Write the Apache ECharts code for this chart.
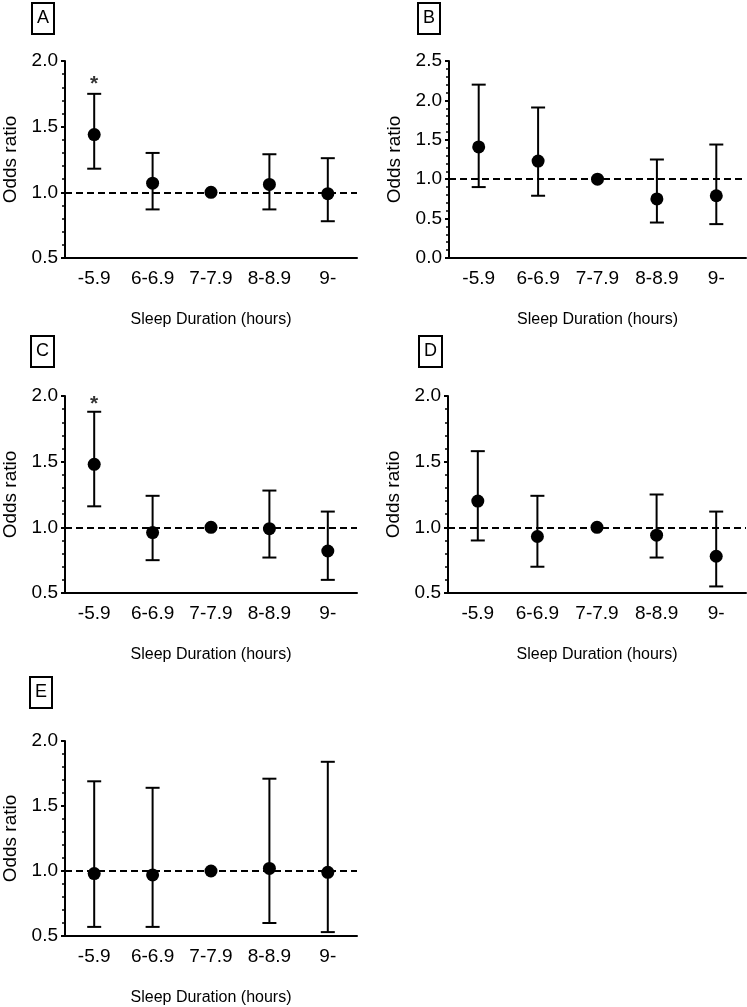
<!DOCTYPE html>
<html>
<head>
<meta charset="utf-8">
<script src="https://cdn.jsdelivr.net/npm/echarts@6/dist/echarts.min.js"></script>
<style>
html,body{margin:0;padding:0;background:#fff;}
#main{width:747px;height:1007px;}
</style>
</head>
<body>
<div id="main"></div>
<script>
//睡眠时长分组
var categories = ['-5.9', '6-6.9', '7-7.9', '8-8.9', '9-'];

//A
var orA   = [1.44, 1.07, 1.00, 1.06, 0.99];
var lowA  = [1.18, 0.87, null, 0.87, 0.78];
var highA = [1.75, 1.30, null, 1.29, 1.26];
var starA = [1.85, null, null, null, null];
//B
var orB   = [1.41, 1.23, 1.00, 0.75, 0.79];
var lowB  = [0.90, 0.79, null, 0.45, 0.43];
var highB = [2.20, 1.91, null, 1.25, 1.44];
var starB = [null, null, null, null, null];
//C
var orC   = [1.48, 0.96, 1.00, 0.99, 0.82];
var lowC  = [1.16, 0.75, null, 0.77, 0.60];
var highC = [1.88, 1.24, null, 1.28, 1.12];
var starC = [1.97, null, null, null, null];
//D
var orD   = [1.20, 0.93, 1.00, 0.94, 0.78];
var lowD  = [0.90, 0.70, null, 0.77, 0.55];
var highD = [1.58, 1.24, null, 1.25, 1.12];
var starD = [null, null, null, null, null];
//E
var orE   = [0.98, 0.97, 1.00, 1.02, 0.99];
var lowE  = [0.57, 0.57, null, 0.60, 0.53];
var highE = [1.69, 1.64, null, 1.71, 1.84];
var starE = [null, null, null, null, null];

var yTicksMin = [0.5, 0.0, 0.5, 0.5, 0.5];
var yTicksMax = [2.0, 2.5, 2.0, 2.0, 2.0];
var letters = ['A', 'B', 'C', 'D', 'E'];

var panels = [
	{or: orA, low: lowA, high: highA, star: starA},
	{or: orB, low: lowB, high: highB, star: starB},
	{or: orC, low: lowC, high: highC, star: starC},
	{or: orD, low: lowD, high: highD, star: starD},
	{or: orE, low: lowE, high: highE, star: starE}
];

var font = "'Liberation Sans', Arial, sans-serif";

//各面板位置
var grids = [
	{left: 60, top: 61, width: 297, height: 197},
	{left: 449, top: 61, width: 297, height: 197},
	{left: 60, top: 396, width: 297, height: 197},
	{left: 448, top: 396, width: 298, height: 197},
	{left: 60, top: 741, width: 297, height: 197}
];
var boxes = [[32, 3], [418, 3], [31, 336], [419, 336], [30, 677]];

//误差线
function errorBar(params, api) {
	var lo = api.coord([api.value(0), api.value(1)]);
	var hi = api.coord([api.value(0), api.value(2)]);
	var w = 7;
	var st = {stroke: '#000', lineWidth: 2};
	return {
		type: 'group',
		children: [
			{type: 'line', shape: {x1: lo[0], y1: lo[1], x2: hi[0], y2: hi[1]}, style: st},
			{type: 'line', shape: {x1: lo[0] - w, y1: lo[1], x2: lo[0] + w, y2: lo[1]}, style: st},
			{type: 'line', shape: {x1: hi[0] - w, y1: hi[1], x2: hi[0] + w, y2: hi[1]}, style: st}
		]
	};
}

var title = [], xAxis = [], yAxis = [], series = [];
for (var i = 0; i < 5; i++) {
	var p = panels[i];
	title.push({
		text: letters[i],
		left: boxes[i][0],
		top: boxes[i][1],
		padding: [6, 5, 6, 5],
		borderColor: '#000',
		borderWidth: 2,
		textStyle: {fontSize: 18, lineHeight: 19, fontWeight: 'normal', color: '#000', fontFamily: font}
	});
	xAxis.push({
		type: 'category',
		gridIndex: i,
		data: categories,
		axisLine: {lineStyle: {color: '#000', width: 2}},
		axisTick: {alignWithLabel: true, length: 5, lineStyle: {color: '#000', width: 2}},
		axisLabel: {color: '#000', fontSize: 19, fontFamily: font, margin: 11},
		name: 'Sleep Duration (hours)',
		nameLocation: 'middle',
		nameGap: 54,
		nameTextStyle: {color: '#000', fontSize: 16, fontFamily: font}
	});
	yAxis.push({
		type: 'value',
		gridIndex: i,
		min: yTicksMin[i],
		max: yTicksMax[i],
		interval: 0.5,
		axisLine: {show: true, lineStyle: {color: '#000', width: 2}},
		axisTick: {show: true, length: 4, lineStyle: {color: '#000', width: 2}},
		minorTick: {show: true, splitNumber: 5, length: 3, lineStyle: {color: '#000', width: 1.5}},
		splitLine: {show: false},
		axisLabel: {color: '#000', fontSize: 19, fontFamily: font, margin: 7,
			formatter: function (v) { return v.toFixed(1); }},
		name: 'Odds ratio',
		nameLocation: 'middle',
		nameGap: 45,
		nameTextStyle: {color: '#000', fontSize: 19, fontFamily: font}
	});
	var bars = [];
	var stars = [];
	for (var j = 0; j < categories.length; j++) {
		if (p.low[j] != null) bars.push([j, p.low[j], p.high[j]]);
		if (p.star[j] != null) stars.push([j, p.star[j]]);
	}
	series.push({
		type: 'custom',
		xAxisIndex: i,
		yAxisIndex: i,
		renderItem: errorBar,
		data: bars,
		z: 2,
		silent: true,
		markLine: {
			silent: true,
			symbol: 'none',
			label: {show: false},
			lineStyle: {color: '#000', width: 2, type: [7, 4]},
			data: [{yAxis: 1}]
		}
	});
	series.push({
		type: 'scatter',
		xAxisIndex: i,
		yAxisIndex: i,
		data: p.or,
		symbolSize: 13,
		itemStyle: {color: '#000', opacity: 1},
		z: 4
	});
	series.push({
		type: 'scatter',
		xAxisIndex: i,
		yAxisIndex: i,
		data: stars,
		symbolSize: 0,
		label: {show: true, position: 'inside', formatter: '*', color: '#000',
			fontSize: 21, fontFamily: font, fontWeight: 'bold', offset: [0, 4]},
		z: 4
	});
}

var chart = echarts.init(document.getElementById('main'));
chart.setOption({
	animation: false,
	backgroundColor: '#fff',
	title: title,
	grid: grids,
	xAxis: xAxis,
	yAxis: yAxis,
	series: series
});
</script>
</body>
</html>
